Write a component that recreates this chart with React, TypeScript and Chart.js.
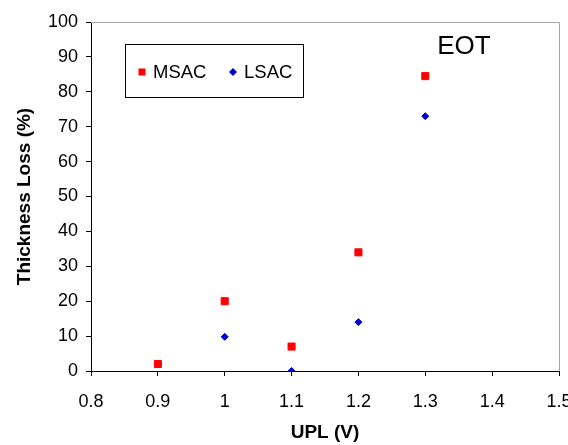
import React, { useEffect, useRef } from "react";
import { Chart, registerables } from "chart.js";

Chart.register(...registerables);

const seriesNames = ["MSAC", "LSAC"];
const msacX = [0.9, 1.0, 1.1, 1.2, 1.3];
const msacY = [2, 20, 7, 34, 84.5];
const lsacX = [1.0, 1.1, 1.2, 1.3];
const lsacY = [9.8, 0, 14, 73];
const xTickValues = [0.8, 0.9, 1.0, 1.1, 1.2, 1.3, 1.4, 1.5];
const yTickValues = [0, 10, 20, 30, 40, 50, 60, 70, 80, 90, 100];
const annotationText = "EOT";
const xTitle = "UPL (V)";
const yTitle = "Thickness Loss (%)";

const FONT = "'Liberation Sans', Arial, sans-serif";

const framePlugin = {
  id: "frame",
  beforeDatasetsDraw(chart: any) {
    const { ctx, chartArea } = chart;
    ctx.save();
    ctx.strokeStyle = "#a6a6a6";
    ctx.lineWidth = 1;
    ctx.beginPath();
    ctx.moveTo(chartArea.left, Math.round(chartArea.top) + 0.5);
    ctx.lineTo(Math.round(chartArea.right) + 0.5, Math.round(chartArea.top) + 0.5);
    ctx.lineTo(Math.round(chartArea.right) + 0.5, chartArea.bottom);
    ctx.stroke();
    ctx.restore();
  },
};

const legendPlugin = {
  id: "boxLegend",
  afterDraw(chart: any) {
    const { ctx } = chart;
    const ds = chart.data.datasets;
    ctx.save();
    ctx.fillStyle = "#ffffff";
    ctx.fillRect(125.5, 44.5, 178, 53);
    ctx.strokeStyle = "#000000";
    ctx.lineWidth = 1;
    ctx.strokeRect(125.5, 44.5, 178, 53);
    const cy = 72;
    const items = [
      { mx: 142, tx: 153 },
      { mx: 233, tx: 244 },
    ];
    ctx.font = `18.5px ${FONT}`;
    ctx.textBaseline = "middle";
    ctx.textAlign = "left";
    items.forEach((it, i) => {
      const d = ds[i];
      ctx.fillStyle = d.backgroundColor;
      if (d.pointStyle === "rect") {
        ctx.fillRect(it.mx - 3.5, cy - 3.5, 7, 7);
      } else {
        ctx.beginPath();
        ctx.moveTo(it.mx - 4, cy);
        ctx.lineTo(it.mx, cy - 4);
        ctx.lineTo(it.mx + 4, cy);
        ctx.lineTo(it.mx, cy + 4);
        ctx.closePath();
        ctx.fill();
      }
      ctx.fillStyle = "#000000";
      ctx.fillText(d.label, it.tx, cy + 1);
    });
    ctx.font = `26px ${FONT}`;
    ctx.textAlign = "center";
    ctx.fillText(annotationText, 464, 47);
    ctx.restore();
  },
};

export default function App() {
  const ref = useRef<HTMLCanvasElement | null>(null);
  useEffect(() => {
    if (!ref.current) return;
    const chart = new Chart(ref.current, {
      type: "scatter",
      data: {
        datasets: [
          {
            label: seriesNames[0],
            data: msacX.map((x, i) => ({ x, y: msacY[i] })),
            backgroundColor: "#ff0000",
            borderColor: "#ff0000",
            borderWidth: 1,
            pointStyle: "rect",
            pointRadius: 5,
          },
          {
            label: seriesNames[1],
            data: lsacX.map((x, i) => ({ x, y: lsacY[i] })),
            backgroundColor: "#0000cc",
            borderColor: "#0000cc",
            borderWidth: 1,
            pointStyle: "rectRot",
            pointRadius: 3.5,
          },
        ],
      },
      options: {
        animation: false,
        responsive: false,
        events: [],
        layout: { padding: { top: 22, right: 9, left: 0, bottom: 0 } },
        plugins: { legend: { display: false }, tooltip: { enabled: false } },
        scales: {
          x: {
            type: "linear",
            min: 0.8,
            max: 1.5,
            afterBuildTicks: (scale: any) => {
              scale.ticks = xTickValues.map((v) => ({ value: v }));
            },
            afterFit: (scale: any) => {
              scale.height = 74;
              scale.paddingLeft = 0;
              scale.paddingRight = 0;
            },
            ticks: {
              color: "#000000",
              font: { family: FONT, size: 18 },
              padding: 15,
              maxRotation: 0,
              autoSkip: false,
              callback: (v: any) => String(Number(Number(v).toFixed(1))),
            },
            grid: { drawOnChartArea: false, tickLength: 5, color: "#000000" },
            border: { color: "#000000", width: 1 },
            title: {
              display: true,
              text: xTitle,
              color: "#000000",
              font: { family: FONT, size: 19, weight: "bold" },
              padding: 1,
            },
          },
          y: {
            min: 0,
            max: 100,
            afterBuildTicks: (scale: any) => {
              scale.ticks = yTickValues.map((v) => ({ value: v }));
            },
            afterFit: (scale: any) => {
              scale.width = 91;
            },
            ticks: {
              color: "#000000",
              font: { family: FONT, size: 18 },
              padding: 8,
              autoSkip: false,
            },
            grid: { drawOnChartArea: false, tickLength: 5, color: "#000000" },
            border: { color: "#000000", width: 1 },
            title: {
              display: true,
              text: yTitle,
              color: "#000000",
              font: { family: FONT, size: 19, weight: "bold" },
              padding: 13,
            },
          },
        },
      },
      plugins: [framePlugin, legendPlugin],
    } as any);
    return () => chart.destroy();
  }, []);
  return (
    <div style={{ position: "fixed", left: 0, top: 0, width: 568, height: 445, background: "#ffffff" }}>
      <canvas ref={ref} width={568} height={445} style={{ display: "block" }} />
    </div>
  );
}
